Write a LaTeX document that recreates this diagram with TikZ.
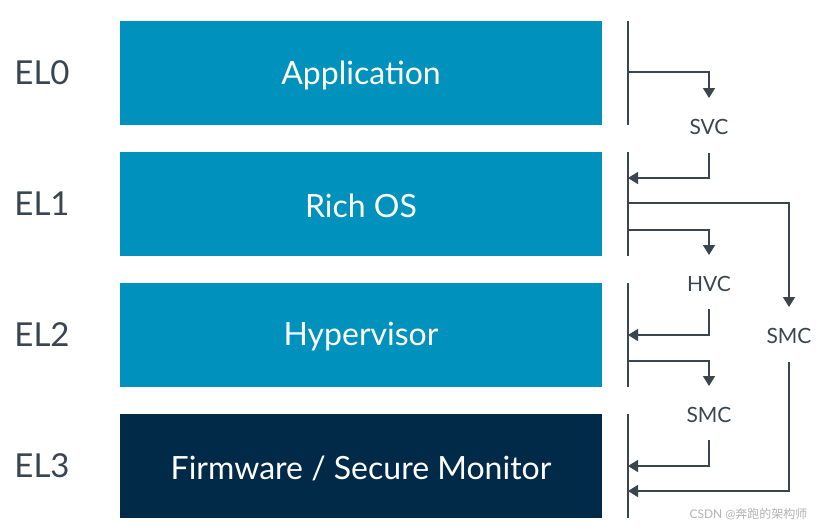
\documentclass[tikz,border=0pt]{standalone}
\usepackage{fontspec}
\setmainfont{Lato}
\newfontfamily\cjk{Noto Sans CJK SC}
\usetikzlibrary{arrows.meta}
\definecolor{elblue}{HTML}{0091BD}
\definecolor{elnavy}{HTML}{002A48}
\definecolor{linegray}{HTML}{3A4550}
\definecolor{elgray}{HTML}{3A4550}
\begin{document}
\begin{tikzpicture}[x=1pt,y=-1pt,
  box/.style={fill=elblue,draw=none,minimum width=482pt,minimum height=104pt,inner sep=0pt,text=white},
  boxtext/.style={text=white,font=\fontsize{32}{36}\selectfont},
  ellabel/.style={text=elgray,font=\fontsize{33}{36}\selectfont},
  call/.style={text=elgray,font=\fontsize{21}{24}\selectfont},
  conn/.style={draw=linegray,line width=1.6pt},
  arr/.style={conn,-{Triangle[width=12pt,length=10pt]}},
]
\useasboundingbox (0,0) rectangle (823,531);
% boxes
\node[box] (app) at (361,73) {};
\node[box] (os) at (361,204) {};
\node[box] (hyp) at (361,335) {};
\node[box,fill=elnavy] (fw) at (361,466) {};
\node[boxtext] (appt) at ([yshift=-2pt]app.center) {Application};
\node[boxtext] (ost) at ([yshift=-2pt]os.center) {Rich OS};
\node[boxtext] (hypt) at ([yshift=-2pt]hyp.center) {Hypervisor};
\node[boxtext] (fwt) at ([yshift=-2pt]fw.center) {Firmware / Secure Monitor};
% EL labels
\node[ellabel] (el0) at (42,73) {EL0};
\node[ellabel] (el1) at (42,204) {EL1};
\node[ellabel] (el2) at (42,335) {EL2};
\node[ellabel] (el3) at (42,466) {EL3};
% bars
\coordinate (b0t) at (628,21);  \coordinate (b0b) at (628,125);
\coordinate (b1t) at (628,152); \coordinate (b1b) at (628,256);
\coordinate (b2t) at (628,283); \coordinate (b2b) at (628,387);
\coordinate (b3t) at (628,414); \coordinate (b3b) at (628,518);
\draw[conn] (b0t) -- (b0b);
\draw[conn] (b1t) -- (b1b);
\draw[conn] (b2t) -- (b2b);
\draw[conn] (b3t) -- (b3b);
% call labels
\node[call] (svc) at (709,127) {SVC};
\node[call] (hvc) at (709,284) {HVC};
\node[call] (smc) at (709,415) {SMC};
\node[call] (smcb) at (789,336) {SMC};
% SVC
\coordinate (s0) at (628,72);  \coordinate (s1) at (709,98);
\coordinate (s2) at (709,153); \coordinate (s3) at (628,178);
\draw[arr] (s0) -| (s1);
\draw[arr] (s2) |- (s3);
% HVC
\coordinate (h0) at (628,230); \coordinate (h1) at (709,255);
\coordinate (h2) at (709,309); \coordinate (h3) at (628,335);
\draw[arr] (h0) -| (h1);
\draw[arr] (h2) |- (h3);
% SMC from EL2
\coordinate (m0) at (628,361); \coordinate (m1) at (709,386);
\coordinate (m2) at (709,440); \coordinate (m3) at (628,466);
\draw[arr] (m0) -| (m1);
\draw[arr] (m2) |- (m3);
% SMC from EL1
\coordinate (n0) at (628,203); \coordinate (n1) at (789,307);
\coordinate (n2) at (789,362); \coordinate (n3) at (628,491);
\draw[arr] (n0) -| (n1);
\draw[arr] (n2) |- (n3);
% watermark
\node[text=black!30,font=\fontsize{12}{14}\selectfont,anchor=east] (wm) at (811,514) {CSDN @{\cjk 奔跑的架构师}};
\end{tikzpicture}
\end{document}
